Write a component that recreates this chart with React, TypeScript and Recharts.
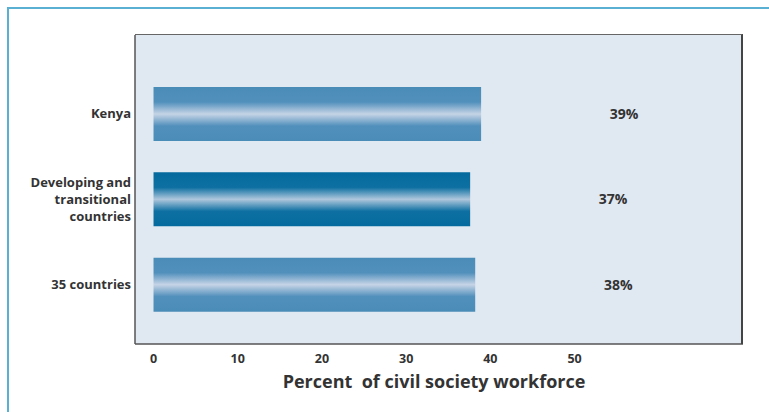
import { BarChart, Bar, XAxis, YAxis, CartesianGrid, Cell, LabelList } from 'recharts';

const categories = ['Kenya', 'Developing and transitional countries', '35 countries'];
// bar lengths as drawn in the picture
const workforceShare = [38.9, 37.6, 38.2];
const valueLabels = ['39%', '37%', '38%'];
const xTicks = [0, 10, 20, 30, 40, 50];

const data = categories.map((name, i) => ({ name, value: workforceShare[i], label: valueLabels[i] }));

const FONT = '"Open Sans", "Noto Sans", sans-serif';
const M = { top: 35, right: 26, bottom: 18, left: 0 };
const W = 769;
const H = 412;
const Y_AXIS_W = 135;
const X_AXIS_H = 50;

// multi-line category names on the left
const CategoryTick = (props: any) => {
  const { x, y, payload } = props;
  const text: string = payload.value;
  const lines = text.startsWith('Developing') ? ['Developing and', 'transitional', 'countries'] : [text];
  const lh = 17;
  const start = y - ((lines.length - 1) * lh) / 2;
  return (
    <text x={x} y={start} textAnchor="end" fontFamily={FONT} fontSize={13} fontWeight={700} fill="#333">
      {lines.map((l, i) => (
        <tspan key={i} x={x} y={start + i * lh} dy="0.35em">{l}</tspan>
      ))}
    </text>
  );
};

const ValueLabel = (props: any) => {
  const { x, y, width, height, value } = props;
  return (
    <text x={x + width + 143} y={y + height / 2} dy="0.35em" textAnchor="middle"
      fontFamily={FONT} fontSize={14} fontWeight={700} fill="#333">
      {value}
    </text>
  );
};

export default function App() {
  return (
    <div style={{ position: 'absolute', left: 0, top: 0, width: W, height: H, background: '#fff' }}>
      <div style={{ position: 'absolute', left: 7, top: 7, right: 0, bottom: 0, borderTop: '2px solid #5ab0d2', borderLeft: '2px solid #5ab0d2' }} />
      <div style={{ position: 'absolute', left: 0, top: 0 }}>
        <BarChart width={W} height={H} data={data} layout="vertical" margin={M} barSize={54}>
          <defs>
            <linearGradient id="gLight" x1="0" y1="0" x2="0" y2="1">
              <stop offset="0%" stopColor="#4a8cb8" />
              <stop offset="28%" stopColor="#5290bc" />
              <stop offset="50%" stopColor="#c6d4e6" />
              <stop offset="72%" stopColor="#5290bc" />
              <stop offset="100%" stopColor="#4a8cb8" />
            </linearGradient>
            <linearGradient id="gDark" x1="0" y1="0" x2="0" y2="1">
              <stop offset="0%" stopColor="#046b9e" />
              <stop offset="28%" stopColor="#0e70a2" />
              <stop offset="50%" stopColor="#afc7dc" />
              <stop offset="72%" stopColor="#0e70a2" />
              <stop offset="100%" stopColor="#046b9e" />
            </linearGradient>
          </defs>
          <CartesianGrid fill="#e0e8f1" stroke="none" horizontal={false} vertical={false} />
          <XAxis type="number" domain={[-2.2, 70]} ticks={xTicks} allowDataOverflow
            tickLine={false} axisLine={{ stroke: '#555', strokeWidth: 1.5 }} height={X_AXIS_H} tickMargin={4}
            tick={{ fill: '#333', fontFamily: FONT, fontSize: 12.5, fontWeight: 700 }}
            label={{ value: 'Percent\u00a0\u00a0of civil society workforce', position: 'insideBottom', offset: 6, dx: -5,
              fill: '#333', fontFamily: FONT, fontSize: 18, fontWeight: 700 }} />
          <YAxis type="category" dataKey="name" width={Y_AXIS_W} tickLine={false} tickSize={4} tickMargin={0}
            axisLine={{ stroke: '#555', strokeWidth: 1.5 }} tick={<CategoryTick />}
            padding={{ top: 36, bottom: 17 }} />
          <Bar dataKey="value" isAnimationActive={false}>
            {data.map((d, i) => (
              <Cell key={d.name} fill={i === 1 ? 'url(#gDark)' : 'url(#gLight)'} />
            ))}
            <LabelList dataKey="label" content={<ValueLabel />} />
          </Bar>
        </BarChart>
      </div>
      {/* plot frame: top and right edges */}
      <div style={{
        position: 'absolute', pointerEvents: 'none',
        left: M.left + Y_AXIS_W, top: M.top - 1,
        width: W - M.left - M.right - Y_AXIS_W, height: H - M.top - M.bottom - X_AXIS_H + 1,
        borderTop: '1.5px solid #666', borderRight: '2px solid #444', boxSizing: 'border-box',
      }} />
    </div>
  );
}
